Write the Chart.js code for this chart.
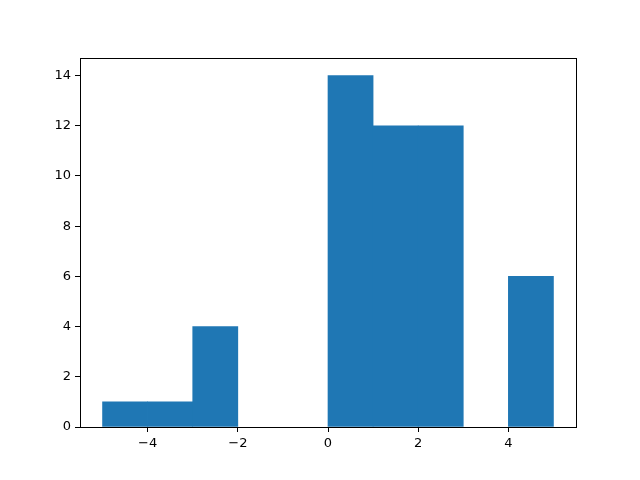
<!DOCTYPE html>
<html>
<head>
<meta charset="utf-8">
<script src="https://cdn.jsdelivr.net/npm/chart.js@4/dist/chart.umd.min.js"></script>
<style>
  html, body { margin: 0; padding: 0; background: #fff; }
  canvas { display: block; }
</style>
</head>
<body>
<canvas id="hist" width="640" height="480"></canvas>
<script>
// histogram bins (edges -5..5, width 1) and counts
var binEdges = [-5, -4, -3, -2, -1, 0, 1, 2, 3, 4, 5];
var counts = [1, 1, 4, 0, 0, 14, 12, 12, 0, 6];
var xTicks = [-4, -2, 0, 2, 4];
var yTicks = [0, 2, 4, 6, 8, 10, 12, 14];

// empty bins draw nothing in the reference
var points = counts.map(function(c, i){
  return { x: (binEdges[i] + binEdges[i+1]) / 2, y: c === 0 ? null : c };
});

function fmt(v){ return v < 0 ? '\u2212' + Math.abs(v) : String(v); }

// matplotlib draws a box round the axes
var frame = {
  id: 'frame',
  afterDraw: function(chart){
    var a = chart.chartArea, ctx = chart.ctx;
    ctx.save();
    ctx.strokeStyle = '#000';
    ctx.lineWidth = 1;
    ctx.strokeRect(Math.round(a.left) + 0.5, Math.round(a.top) + 0.5,
                   Math.round(a.right - a.left), Math.round(a.bottom - a.top));
    ctx.restore();
  }
};

var tickFont = { family: 'DejaVu Sans', size: 13 };

new Chart(document.getElementById('hist'), {
  type: 'bar',
  data: {
    datasets: [{
      data: points,
      backgroundColor: '#1f77b4',
      borderWidth: 0,
      barPercentage: 1,
      categoryPercentage: 1
    }]
  },
  options: {
    responsive: false,
    animation: false,
    layout: { padding: { top: 58, right: 64, bottom: 0, left: 0 } },
    plugins: { legend: { display: false }, tooltip: { enabled: false } },
    scales: {
      x: {
        type: 'linear',
        min: -5.5, max: 5.5,
        offset: false,
        afterBuildTicks: function(s){ s.ticks = xTicks.map(function(v){ return { value: v }; }); },
        afterFit: function(s){ s.height = 53; },
        grid: { offset: false, drawOnChartArea: false, drawTicks: true, tickLength: 5, color: '#000' },
        border: { display: false },
        ticks: { color: '#000', font: tickFont, padding: 4, maxRotation: 0,
                 callback: function(v){ return fmt(v); } }
      },
      y: {
        min: 0, max: 14.7,
        afterBuildTicks: function(s){ s.ticks = yTicks.map(function(v){ return { value: v }; }); },
        afterFit: function(s){ s.width = 80; },
        grid: { drawOnChartArea: false, drawTicks: true, tickLength: 5, color: '#000' },
        border: { display: false },
        ticks: { color: '#000', font: tickFont, padding: 4,
                 callback: function(v){ return fmt(v); } }
      }
    }
  },
  plugins: [frame]
});
</script>
</body>
</html>
